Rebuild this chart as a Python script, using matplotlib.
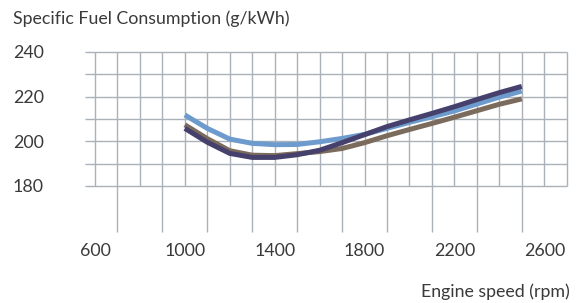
import matplotlib.pyplot as plt

# --- data ---
rpm = [1000, 1100, 1200, 1300, 1400, 1500, 1600, 1700,
       1800, 1900, 2000, 2100, 2200, 2300, 2400, 2500]
sfc_blue = [211.8, 205.8, 201.0, 199.1, 198.5, 198.6, 199.8, 201.3,
            203.1, 205.8, 208.5, 211.0, 213.6, 216.7, 219.8, 222.5]
sfc_brown = [207.4, 201.2, 195.8, 193.8, 193.6, 194.5, 195.4, 196.8,
             199.4, 202.5, 205.3, 208.0, 210.8, 213.7, 216.6, 219.0]
sfc_purple = [205.8, 199.6, 194.6, 192.8, 192.8, 194.0, 196.0, 199.4,
              203.0, 206.6, 209.6, 212.5, 215.5, 218.7, 221.8, 224.6]

x_ticks = [600, 1000, 1400, 1800, 2200, 2600]
y_ticks = [180, 200, 220, 240]
x_grid = list(range(600, 2800, 100))
y_grid = list(range(180, 250, 10))
x_long = list(range(700, 2600, 200))

plt.rcParams['font.family'] = ['Lato', 'DejaVu Sans']
TXT = '#3a3a3a'
GRID = '#aab1b8'
FS = 12.8

W, H = 581, 303
fig = plt.figure(figsize=(W / 100, H / 100), dpi=100)
ax = fig.add_axes([95 / W, 1 - 186 / H, (566.7 - 95) / W, (186 - 52) / H])
ax.set_xlim(600, 2700)
ax.set_ylim(180, 240)
for s in ax.spines.values():
    s.set_visible(False)

# grid with short stubs on the left and long lines below the box
ax.hlines(y_grid, 555, 2700, color=GRID, lw=1.0, clip_on=False, zorder=1)
ax.vlines(x_grid, 180, 240, color=GRID, lw=1.0, clip_on=False, zorder=1)
ax.vlines(x_long, 159.5, 180, color=GRID, lw=1.0, clip_on=False, zorder=1)

ax.plot(rpm, sfc_blue, color='#6e9bcd', lw=3.6, solid_capstyle='butt', zorder=3)
ax.plot(rpm, sfc_brown, color='#7b6b5c', lw=3.6, solid_capstyle='butt', zorder=4)
ax.plot(rpm, sfc_purple, color='#46406c', lw=3.6, solid_capstyle='butt', zorder=5)

ax.set_xticks(x_ticks)
ax.set_yticks(y_ticks)
ax.tick_params(axis='both', length=0, labelsize=FS, labelcolor=TXT)
ax.tick_params(axis='x', pad=41)
ax.tick_params(axis='y', pad=37)

fig.text(13 / W, 1 - 19 / H, 'Specific Fuel Consumption (g/kWh)',
         ha='left', va='center', fontsize=FS, color=TXT)
fig.text(570 / W, 1 - 292 / H, 'Engine speed (rpm)',
         ha='right', va='center', fontsize=FS, color=TXT)

fig.savefig('out.png', dpi=100)
